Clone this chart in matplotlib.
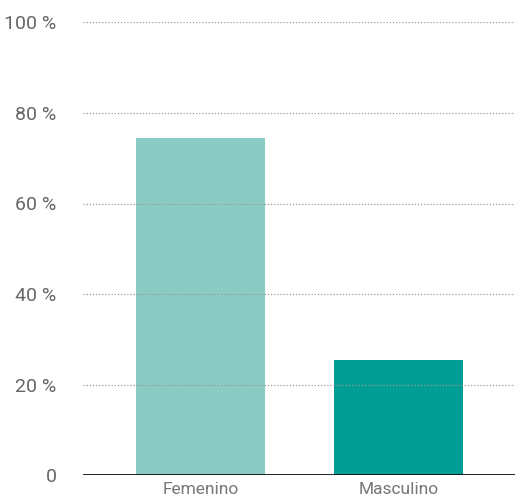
import matplotlib.pyplot as plt

categories = ["Femenino", "Masculino"]
values = [74.5, 25.5]
bar_colors = ["#8ACCC4", "#009E94"]
y_ticks = [0, 20, 40, 60, 80, 100]

plt.rcParams['font.family'] = ['Roboto', 'DejaVu Sans']

fig = plt.figure(figsize=(5.15, 5.0), dpi=100)
ax = fig.add_axes([83 / 515, 0.05, 1 - 83 / 515, 0.905])

x = list(range(len(categories)))
ax.bar(x, values, width=0.65, color=bar_colors, zorder=1)

ax.set_xlim(-0.593, 1.588)
ax.set_ylim(0, 100)
ax.set_yticks(y_ticks)
ax.set_yticklabels(["0" if v == 0 else f"{v} %" for v in y_ticks])
ax.set_xticks(x)
ax.set_xticklabels(categories)

for v in y_ticks[1:]:
    ax.axhline(v, color="#999999", linestyle=(0, (1, 1.5)), linewidth=0.9, zorder=2)
ax.axhline(0, color="black", linewidth=1.2, zorder=3)

for s in ax.spines.values():
    s.set_visible(False)
ax.tick_params(axis="y", length=0, pad=19, labelsize=14, labelcolor="#666666")
ax.tick_params(axis="x", length=0, pad=5, labelsize=12.5, labelcolor="#777777")

fig.savefig("out.png", dpi=100)
